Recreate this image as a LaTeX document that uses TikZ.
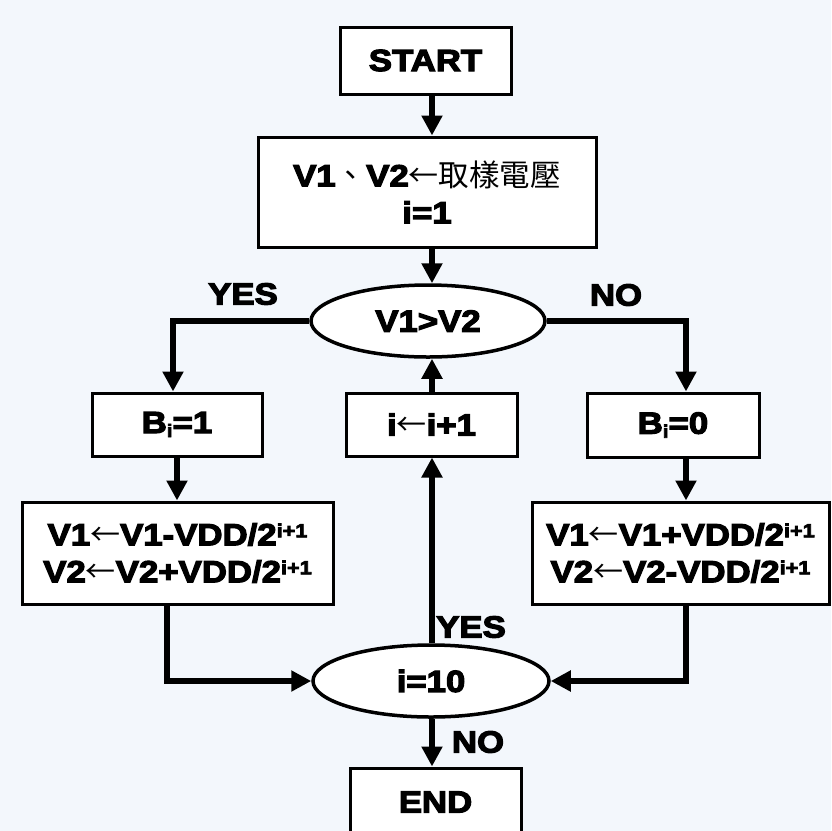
\documentclass[tikz,border=0pt]{standalone}
\usepackage{fontspec}
\newfontfamily\blk{Liberation Sans Bold}[FakeBold=4,FakeStretch=1.14]
\newfontfamily\cjk{Noto Sans CJK TC}
\usetikzlibrary{shapes.geometric,arrows.meta}
\definecolor{bgc}{HTML}{F3F7FC}
\newcommand\mysup[1]{\raisebox{8pt}{\fontsize{19}{19}\selectfont #1}}
\newcommand\mysub[1]{\raisebox{-4pt}{\fontsize{18}{18}\selectfont #1}}
\newcommand\la{{\cjk\fontsize{30}{30}\selectfont ←}}
\begin{document}
\begin{tikzpicture}[x=1pt,y=-1pt,
  box/.style={draw, line width=3pt, fill=white, inner sep=0pt, align=center, font=\blk\fontsize{30.5}{37}\selectfont},
  oval/.style={ellipse, draw, line width=3.5pt, fill=white, inner sep=0pt, font=\blk\fontsize{30.5}{37}\selectfont},
  conn/.style={line width=5.5pt, -{Triangle[length=20pt,width=20pt]}},
  lbl/.style={font=\blk\fontsize{30.5}{30}\selectfont, inner sep=0pt}]
\fill[bgc] (0,0) rectangle (831,831);
\useasboundingbox (0,0) rectangle (831,831);
\node[box, minimum width=171, minimum height=67] (start) at (425.5,60.5) {START};
\node[box, minimum width=338, minimum height=110] (init) at (427,192) {V1{\cjk 、}V2\la{\cjk 取樣電壓}\\i=1};
\node[oval, minimum width=234, minimum height=72] (cmp) at (428,321) {V1>V2};
\node[box, minimum width=170, minimum height=63] (b1) at (177,424.5) {B\mysub{i}=1};
\node[box, minimum width=171, minimum height=63] (inc) at (431.5,424.5) {i\la i+1};
\node[box, minimum width=172, minimum height=64] (b0) at (673,425) {B\mysub{i}=0};
\node[box, minimum width=311, minimum height=102] (upd1) at (177.5,553) {V1\la V1-VDD/2\mysup{i+1}\\V2\la V2+VDD/2\mysup{i+1}};
\node[box, minimum width=297, minimum height=102] (upd0) at (680.5,553) {V1\la V1+VDD/2\mysup{i+1}\\V2\la V2-VDD/2\mysup{i+1}};
\node[oval, minimum width=236, minimum height=72] (chk) at (431,681) {i=10};
\node[box, minimum width=171, minimum height=68] (end) at (435.5,802) {END};
\coordinate (mx) at (432,0);
\coordinate (lx1) at (173,0);
\coordinate (lx2) at (167,0);
\coordinate (rx) at (686,0);
\draw[conn] (start.south -| mx) -- (init.north -| mx);
\draw[conn] (init.south -| mx) -- (cmp.north -| mx);
\draw[conn] (cmp.west) -| (b1.north -| lx1);
\draw[conn] (b1.south) -- (upd1.north -| b1.south);
\draw[conn] (upd1.south -| lx2) |- (chk.west);
\draw[conn] (cmp.east) -| (b0.north -| rx);
\draw[conn] (b0.south -| rx) -- (upd0.north -| rx);
\draw[conn] (upd0.south -| rx) |- (chk.east);
\draw[conn] (chk.north -| mx) -- (inc.south -| mx);
\draw[conn] (inc.north -| mx) -- (cmp.south -| mx);
\draw[conn] (chk.south -| mx) -- (end.north -| mx);
\node[lbl] (yes1) at (243,294) {YES};
\node[lbl] (no1) at (616,295) {NO};
\node[lbl] (yes2) at (471,627) {YES};
\node[lbl] (no2) at (478,742) {NO};
\end{tikzpicture}
\end{document}
